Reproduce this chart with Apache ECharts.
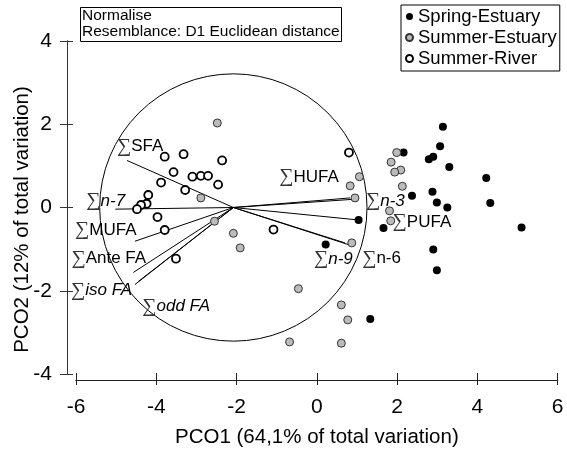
<!DOCTYPE html>
<html>
<head>
<meta charset="utf-8">
<script src="https://cdn.jsdelivr.net/npm/echarts@6/dist/echarts.min.js"></script>
<style>
  html, body { margin: 0; padding: 0; background: #fff; }
  #chart { width: 567px; height: 453px; }
</style>
</head>
<body>
<div id="chart"></div>
<script>
// groups of samples, [PCO1, PCO2]
const springEstuary = [
  [1.04, -0.30], [0.22, -0.89], [2.16, 1.32], [3.14, 1.94], [3.07, 1.47],
  [2.90, 1.22], [2.79, 1.16], [3.30, 0.97], [4.22, 0.71], [2.37, 0.28],
  [2.88, 0.38], [2.99, 0.12], [3.25, 0.00], [4.32, 0.11], [1.66, -0.49],
  [5.10, -0.48], [2.90, -1.01], [2.99, -1.51], [1.33, -2.68]
]
const summerEstuary = [
  [-2.48, 2.03], [-2.89, 0.23], [-2.08, -0.62], [-1.91, -0.97], [-0.46, -1.95],
  [1.06, 0.74], [0.83, 0.52], [0.95, 0.23], [0.87, -0.85], [0.61, -2.34],
  [0.77, -2.70], [1.99, 1.32], [1.85, 1.09], [2.09, 0.90], [1.94, 0.85],
  [2.13, 0.51], [1.81, -0.08], [1.84, -0.32], [-0.68, -3.23], [0.61, -3.26],
  [-2.55, -0.33]
]
const summerRiver = [
  [-3.79, 1.22], [-3.32, 1.28], [-2.36, 1.13], [-3.57, 0.85], [-3.88, 0.60],
  [-3.10, 0.74], [-2.89, 0.76], [-2.71, 0.76], [-2.46, 0.55], [-3.28, 0.42],
  [-4.20, 0.30], [-4.24, 0.09], [-4.38, 0.06], [-4.48, -0.04], [-3.97, -0.23],
  [-3.79, -0.54], [-3.51, -1.23], [-1.08, -0.53], [0.80, 1.32]
]

// vector overlay (correlation circle)
const circleCenter = [-2.08, 0.0]
const circleRadius = 3.33
const vectorLabels = [
  '{s|∑}SFA', '{s|∑}{i|n-7}', '{s|∑}MUFA', '{s|∑}Ante FA', '{s|∑}{i|iso FA}',
  '{s|∑}{i|odd FA}', '{s|∑}HUFA', '{s|∑}{i|n-3}', '{s|∑}PUFA', '{s|∑}{i|n-9}', '{s|∑}n-6'
]
const vectorX = [-4.73, -5.02, -4.53, -4.57, -4.53, -4.45, 0.83, 0.95, 1.04, 0.70, 0.78]
const vectorY = [1.13, -0.04, -0.81, -1.56, -1.85, -1.78, 0.23, 0.20, -0.30, -0.85, -0.89]

const xTicks = { min: -6, max: 6, interval: 2 }
const yTicks = { min: -4, max: 4, interval: 2 }

// label placement in pixels from the vector tip (layout only)
const labelOffsets = [
  [-10, -14], [-29, -8], [-60, -11], [-62, -14], [-64, 6],
  [4, 25], [-71, -21], [11, 2], [34, 2], [-31, 16], [14, 14]
]

const FONT = 'Liberation Sans, Arial, sans-serif'
const chart = echarts.init(document.getElementById('chart'))

function baseX(extra) {
  return Object.assign({
    type: 'value', min: xTicks.min, max: xTicks.max, interval: xTicks.interval,
    position: 'bottom', offset: 6,
    axisLine: { show: true, onZero: false, lineStyle: { color: '#222', width: 1 } },
    splitLine: { show: false }
  }, extra)
}
function baseY(extra) {
  return Object.assign({
    type: 'value', min: yTicks.min, max: yTicks.max, interval: yTicks.interval,
    position: 'left', offset: 9,
    axisLine: { show: true, onZero: false, lineStyle: { color: '#333', width: 1 } },
    splitLine: { show: false }
  }, extra)
}

chart.setOption({
  animation: false,
  textStyle: { fontFamily: FONT },
  title: {
    text: 'Normalise\nResemblance: D1 Euclidean distance',
    left: 80, top: 7,
    borderColor: '#000', borderWidth: 1,
    padding: [1, 2, 2, 2],
    textStyle: { fontSize: 15.5, fontWeight: 'normal', color: '#000', lineHeight: 16, fontFamily: FONT }
  },
  legend: {
    data: ['Spring-Estuary', 'Summer-Estuary', 'Summer-River'],
    orient: 'vertical', left: 401, top: 5,
    borderColor: '#000', borderWidth: 1,
    padding: [2, 3, 3, 4],
    itemWidth: 7, itemHeight: 7, itemGap: 2,
    textStyle: { fontSize: 18.5, color: '#000', fontFamily: FONT }
  },
  grid: { left: 76, right: 9.3, top: 41, bottom: 77 },
  xAxis: [
    baseX({
      name: 'PCO1 (64,1% of total variation)', nameLocation: 'middle', nameGap: 47,
      nameMoveOverlap: false,
      nameTextStyle: { fontSize: 20.5, color: '#000' },
      axisTick: { show: true, inside: false, length: 5, lineStyle: { color: '#222' } },
      axisLabel: { fontSize: 21, color: '#000', margin: 17 }
    }),
    baseX({
      axisTick: { show: true, inside: true, length: 7, lineStyle: { color: '#222' } },
      axisLabel: { show: false }
    })
  ],
  yAxis: [
    baseY({
      name: 'PCO2 (12% of total variation)', nameLocation: 'middle', nameGap: 34,
      nameMoveOverlap: false,
      nameTextStyle: { fontSize: 20.5, color: '#000', padding: [0, 24, 0, 0] },
      axisTick: { show: true, inside: false, length: 7, lineStyle: { color: '#333' } },
      axisLabel: { fontSize: 21, color: '#000', margin: 15 }
    }),
    baseY({
      axisTick: { show: true, inside: true, length: 6, lineStyle: { color: '#333' } },
      axisLabel: { show: false }
    })
  ],
  series: [
    {
      type: 'custom', name: 'circle', silent: true, z: 1,
      data: [[circleCenter[0], circleCenter[1], circleRadius]],
      encode: { x: 0, y: 1 },
      renderItem: (params, api) => {
        const c = api.coord([api.value(0), api.value(1)])
        const r = api.size([api.value(2), 0])[0]
        return {
          type: 'circle', shape: { cx: c[0], cy: c[1], r: r },
          style: { fill: 'none', stroke: '#000', lineWidth: 1 }
        }
      }
    },
    {
      type: 'custom', name: 'vectors', silent: true, z: 2,
      data: vectorX.map((x, i) => [x, vectorY[i], i]),
      encode: { x: 0, y: 1 },
      renderItem: (params, api) => {
        const o = api.coord(circleCenter)
        const e = api.coord([api.value(0), api.value(1)])
        const off = labelOffsets[api.value(2)]
        return {
          type: 'group',
          children: [
            {
              type: 'line',
              shape: { x1: o[0], y1: o[1], x2: e[0], y2: e[1] },
              style: { stroke: '#000', lineWidth: 1 }
            },
            {
              type: 'text',
              x: e[0] + off[0], y: e[1] + off[1],
              style: {
                text: vectorLabels[api.value(2)],
                fill: '#000', fontSize: 17, fontFamily: FONT,
                align: 'left', verticalAlign: 'middle',
                rich: {
                  s: { fontSize: 20, fontFamily: 'DejaVu Sans', fontWeight: 200, fill: '#333' },
                  i: { fontSize: 17, fontFamily: FONT, fontStyle: 'italic' }
                }
              }
            }
          ]
        }
      }
    },
    {
      type: 'scatter', name: 'Spring-Estuary', z: 5,
      data: springEstuary, symbol: 'circle', symbolSize: 8,
      itemStyle: { color: '#000', opacity: 1 }
    },
    {
      type: 'scatter', name: 'Summer-Estuary', z: 5,
      data: summerEstuary, symbol: 'circle', symbolSize: 8,
      itemStyle: { color: '#bbb', borderColor: '#333', borderWidth: 1, opacity: 1 }
    },
    {
      type: 'scatter', name: 'Summer-River', z: 5,
      data: summerRiver, symbol: 'circle', symbolSize: 8,
      itemStyle: { color: '#fff', borderColor: '#000', borderWidth: 1.8, opacity: 1 }
    }
  ]
})
</script>
</body>
</html>
